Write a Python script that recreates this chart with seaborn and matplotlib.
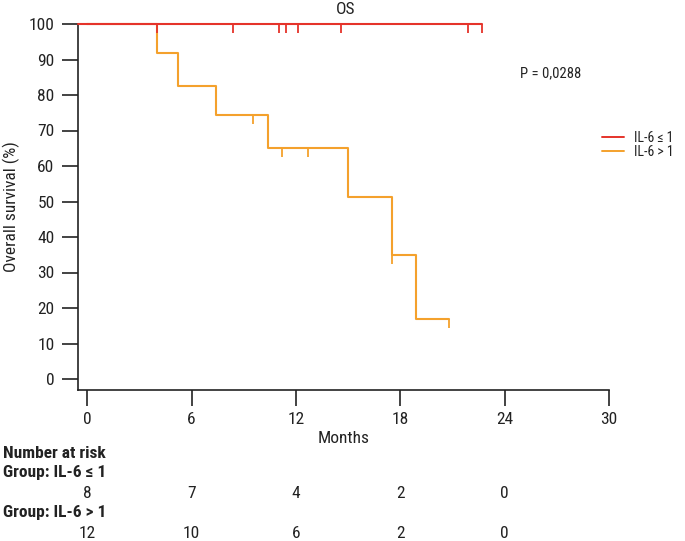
import numpy as np
import pandas as pd
import matplotlib
matplotlib.use("Agg")
import matplotlib.pyplot as plt
from matplotlib import font_manager
from matplotlib.lines import Line2D
import seaborn as sns

# ---- data ----
groups = ["IL-6 ≤ 1", "IL-6 > 1"]
low_times = [0, 22.7]
low_surv = [100, 100]
low_censor = [4.0, 8.4, 11.0, 11.4, 12.1, 14.6, 21.9, 22.7]

high_times = [0, 4.0, 5.2, 7.4, 10.4, 15.0, 17.5, 18.9, 20.8]
high_surv = [100, 91.7, 82.5, 74.3, 65.0, 51.4, 34.9, 17.0, 17.0]
high_censor = [9.5, 11.2, 12.7, 17.5, 20.8]

risk_times = [0, 6, 12, 18, 24]
risk_low = [8, 7, 4, 2, 0]
risk_high = [12, 10, 6, 2, 0]

x_ticks = [0, 6, 12, 18, 24, 30]
y_ticks = list(range(0, 101, 10))
p_text = "P = 0,0288"
colors = ["#E5332A", "#F4A12C"]

sns.set_theme(style="white")
names = {f.name for f in font_manager.fontManager.ttflist}
fam = []
for n in ["Liberation Sans Narrow", "Roboto Condensed", "Arial Narrow", "Roboto", "Liberation Sans"]:
    if n in names:
        fam.append(n)
        break
fam.append("DejaVu Sans")
plt.rcParams["font.family"] = fam

df = pd.concat([
    pd.DataFrame({"Months": high_times, "Survival": high_surv, "Group": groups[1]}),
    pd.DataFrame({"Months": low_times, "Survival": low_surv, "Group": groups[0]}),
])

fig = plt.figure(figsize=(6.85, 5.41), dpi=100)
ax = fig.add_axes([77.5 / 685, 1 - 390 / 541, (609 - 77.5) / 685, (390 - 24) / 541])

x_left = (77.5 - 87.3) / 17.4
sns.lineplot(data=df, x="Months", y="Survival", hue="Group",
             hue_order=[groups[1], groups[0]], palette=[colors[1], colors[0]],
             estimator=None, sort=False, drawstyle="steps-post", lw=1.5,
             legend=False, ax=ax)
for l in ax.lines:
    l.set_clip_on(False)
# lead-in from the axis to time 0 (top line, red drawn over orange)
ax.plot([x_left, 0], [low_surv[0], low_surv[0]], color=colors[0], lw=1.5, clip_on=False, zorder=3)

def step_val(times, surv, t):
    idx = np.searchsorted(times, t, side="right") - 1
    return surv[idx]

tick_len = 2.6
lc = [step_val(low_times, low_surv, t) for t in low_censor]
hc = [step_val(high_times, high_surv, t) for t in high_censor]
ax.vlines(high_censor, np.array(hc) - tick_len, hc, color=colors[1], lw=1.3, clip_on=False)
ax.vlines(low_censor, np.array(lc) - tick_len, lc, color=colors[0], lw=1.3, clip_on=False)

ax.set_xlim(x_left, 30)
ax.set_ylim(-(390 - 379) / 3.55, 100)
ax.set_xticks(x_ticks)
ax.set_yticks(y_ticks)
ax.tick_params(axis="both", direction="out", length=11.5, width=1.2, color="#222222",
               labelsize=12.5, labelcolor="#222222", left=True, bottom=True)
ax.tick_params(axis="y", pad=5)
ax.tick_params(axis="x", pad=4)
for s in ["top", "right"]:
    ax.spines[s].set_visible(False)
for s in ["left", "bottom"]:
    ax.spines[s].set_color("#222222")
    ax.spines[s].set_linewidth(1.2)

ax.set_xlabel("Months", fontsize=12.5, color="#222222", labelpad=3)
ax.set_ylabel("Overall survival (%)", fontsize=12.5, color="#222222", labelpad=6)
fig.text(346 / 685, 1 - 9 / 541, "OS", ha="center", va="center", fontsize=12.5, color="#222222")
ax.text(520 / 685, 1 - 73 / 541, p_text, transform=fig.transFigure, ha="left", va="center",
        fontsize=10.5, color="#222222")

handles = [Line2D([], [], color=c, lw=1.4) for c in colors]
leg = fig.legend(handles, groups, loc="center left", bbox_to_anchor=(602 / 685, 1 - 145 / 541),
                 frameon=False, fontsize=10, handlelength=1.6, handletextpad=0.7,
                 labelspacing=0.05, borderaxespad=0, borderpad=0)
for t in leg.get_texts():
    t.set_color("#222222")

# number at risk table
fig.text(3 / 685, 1 - 453 / 541, "Number at risk", ha="left", va="center",
         fontsize=12.5, fontweight="bold", color="#222222")
fig.text(3 / 685, 1 - 473 / 541, "Group: " + groups[0], ha="left", va="center",
         fontsize=12.5, fontweight="bold", color="#222222")
fig.text(3 / 685, 1 - 513 / 541, "Group: " + groups[1], ha="left", va="center",
         fontsize=12.5, fontweight="bold", color="#222222")
trans = matplotlib.transforms.blended_transform_factory(ax.transData, fig.transFigure)
for t, n1, n2 in zip(risk_times, risk_low, risk_high):
    ax.text(t, 1 - 493 / 541, str(n1), transform=trans, ha="center", va="center",
            fontsize=12.5, color="#222222", clip_on=False)
    ax.text(t, 1 - 533 / 541, str(n2), transform=trans, ha="center", va="center",
            fontsize=12.5, color="#222222", clip_on=False)

fig.savefig("out.png", dpi=100)
